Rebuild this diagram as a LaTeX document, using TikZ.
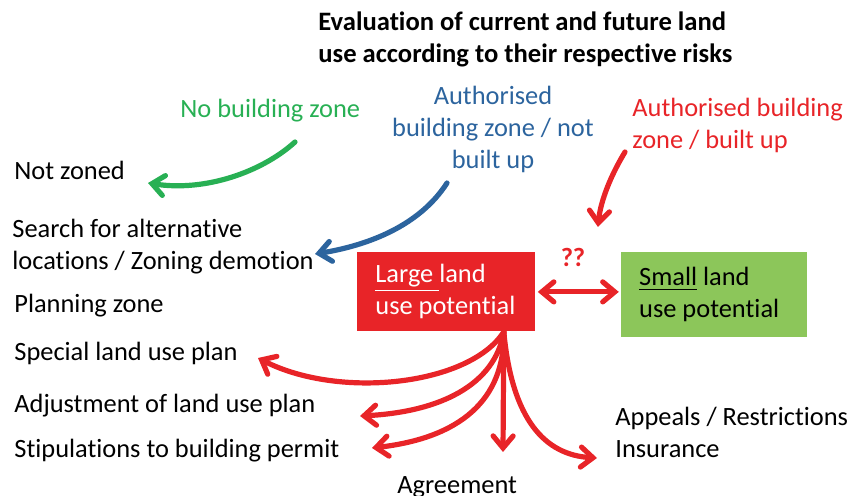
\documentclass[tikz,border=0pt]{standalone}
\usepackage{fontspec}
\setmainfont{Carlito}[Ligatures=NoCommon]
\usetikzlibrary{positioning,arrows.meta}
\definecolor{riskred}{RGB}{232,36,40}
\definecolor{zonegreen}{RGB}{40,176,84}
\definecolor{zoneblue}{RGB}{44,100,158}
\definecolor{smallgreen}{RGB}{140,198,90}
\tikzstyle{zonetext}=[anchor=base west, inner sep=0pt, align=left, font=\fontsize{13.2}{16}\selectfont]
\tikzstyle{potential}=[rectangle, anchor=north west, inner xsep=9pt, inner ysep=0pt,
        align=flush left, font=\fontsize{13.2}{16}\selectfont]
\tikzstyle{riskarrow}=[line width=2.6pt, line cap=round,
        -{Straight Barb[length=6pt,width=10pt,line cap=round]}]
\tikzstyle{bothways}=[line width=2.6pt, line cap=round, shorten <=1pt, shorten >=1pt,
        {Straight Barb[length=6pt,width=10pt,line cap=round]}-{Straight Barb[length=6pt,width=10pt,line cap=round]}]

\begin{document}
\begin{tikzpicture}[x=0.5pt,y=-0.5pt]
        \useasboundingbox (0,0) rectangle (853,496);
        % title (base = last line)
        \node (Title) [zonetext, font=\fontsize{13.3}{16}\selectfont\bfseries] at (318,63)
        {Evaluation of current and future land\\use according to their respective risks};
        % zones
        \node (NoBuilding) [zonetext, text=zonegreen] at (180,118) {No building zone};
        \node (NotBuilt) [zonetext, anchor=base, align=center, text=zoneblue] at (493,169)
        {Authorised\\building zone / not\\built up};
        \node (BuiltUp) [zonetext, text=riskred] at (632,149) {Authorised building\\zone / built up};
        % measures
        \node (NotZoned) [zonetext] at (14,180) {Not zoned};
        \node (Search) [zonetext] at (12,270) {Search for alternative\\locations / Zoning demotion};
        \node (Planning) [zonetext] at (14,313) {Planning zone};
        \node (Special) [zonetext] at (14,361) {Special land use plan};
        \node (Adjust) [zonetext] at (14,413) {Adjustment of land use plan};
        \node (Stipulate) [zonetext] at (14,458) {Stipulations to building permit};
        \node (Agreement) [zonetext] at (397,494) {Agreement};
        \node (Appeals) [zonetext] at (615,458) {Appeals / Restrictions\\Insurance};
        % potentials
        \node (Large) [potential, fill=riskred, text=white, text width=71pt, minimum height=39.5pt] at (357,252)
        {\underline{Large\ }land\\use potential};
        \node (Small) [potential, fill=smallgreen, text width=75pt, minimum height=42.5pt,
          right=42.5pt of Large.north east, anchor=north west]
        {\underline{Small} land\\use potential};
        \node (Unknown) [text=riskred, font=\fontsize{13.2}{16}\selectfont\bfseries] at (573,257) {??};

        \coordinate (NoBuildingTail) at (295,142);
        \coordinate (NotZonedTip) at (148,183);
        \coordinate (NotBuiltTail) at (447,183);
        \coordinate (SearchTip) at (315,254);
        \coordinate (BuiltUpTail) at (625,152);
        \coordinate (LargeTip) at (598,227);
        \coordinate (Fork) at ([xshift=-16pt]Large.south east);
        \coordinate (SpecialTip) at (258,358);
        \coordinate (AdjustTip) at (360,416);
        \coordinate (StipulateTip) at (372,448);
        \coordinate (AgreementTip) at (503,452);
        \coordinate (AppealsTip) at (597,458);

        \draw[riskarrow, zonegreen] (NoBuildingTail) .. controls (262,172) and (205,192) .. (NotZonedTip);
        \draw[riskarrow, zoneblue] (NotBuiltTail) .. controls (420,225) and (370,245) .. (SearchTip);
        \draw[riskarrow, riskred] (BuiltUpTail) .. controls (608,180) and (600,205) .. (LargeTip);
        \draw[bothways, riskred] (Large.east) -- (Large.east -| Small.west);
        \draw[riskarrow, riskred] (Fork) .. controls (470,385) and (340,400) .. (SpecialTip);
        \draw[riskarrow, riskred] (Fork) .. controls (495,385) and (440,412) .. (AdjustTip);
        \draw[riskarrow, riskred] (Fork) .. controls (505,400) and (460,438) .. (StipulateTip);
        \draw[riskarrow, riskred] (Fork) -- (AgreementTip);
        \draw[riskarrow, riskred] (Fork) .. controls (512,420) and (545,455) .. (AppealsTip);
\end{tikzpicture}
\end{document}
